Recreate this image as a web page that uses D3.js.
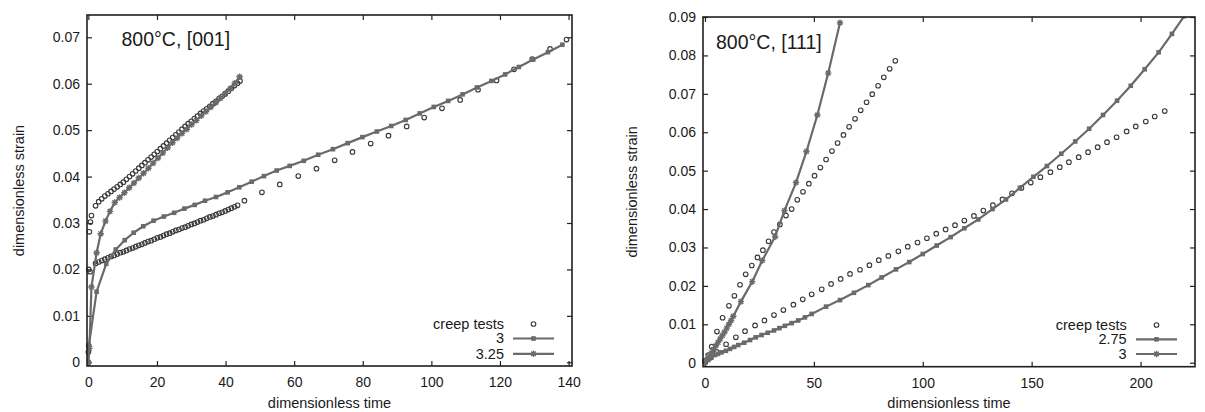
<!DOCTYPE html>
<html><head><meta charset="utf-8">
<script src="https://cdn.jsdelivr.net/npm/d3@7"></script>
<style>
body{margin:0;background:#fff}
text{font-family:"Liberation Sans",Arial,Helvetica,sans-serif;fill:#1a1a1a}
</style>
</head><body>
<svg id="c" width="1205" height="412"></svg>
<script>
// ---------- Left panel: 800°C, [001] ----------
const leftTitle = "800°C, [001]";
const leftXTicks = [0, 20, 40, 60, 80, 100, 120, 140];
const leftYTicks = [0, 0.01, 0.02, 0.03, 0.04, 0.05, 0.06, 0.07];
const leftLegend = ["creep tests", "3", "3.25"];
const leftTestUpper = [[0.3,0.0281],[0.6,0.0302],[0.9,0.0316],[2.1,0.0337],[3.0,0.0346],[3.9,0.0352],[4.8,0.0358],[5.7,0.0363],[6.6,0.0368],[7.5,0.0373],[8.4,0.0378],[9.3,0.0383],[10.2,0.0388],[11.1,0.0394],[12.0,0.0400],[12.9,0.0406],[13.8,0.0412],[14.7,0.0418],[15.6,0.0424],[16.5,0.0430],[17.4,0.0436],[18.3,0.0442],[19.2,0.0448],[20.1,0.0454],[21.0,0.0460],[21.9,0.0466],[22.8,0.0472],[23.7,0.0478],[24.6,0.0484],[25.5,0.0490],[26.4,0.0496],[27.3,0.0502],[28.2,0.0508],[29.1,0.0514],[30.0,0.0519],[30.9,0.0525],[31.8,0.0530],[32.7,0.0536],[33.6,0.0541],[34.5,0.0546],[35.4,0.0551],[36.3,0.0557],[37.2,0.0562],[38.1,0.0568],[39.0,0.0573],[39.9,0.0578],[40.8,0.0584],[41.7,0.0590],[42.6,0.0596],[43.5,0.0601],[44.2,0.0606]];
const leftTestLower = [[0,0.0022],[0.1,0.0036],[0.1,0.0200],[0.5,0.0195],[2.1,0.0213],[3.0,0.0216],[3.9,0.0219],[4.8,0.0222],[5.7,0.0225],[6.6,0.0228],[7.5,0.0230],[8.4,0.0233],[9.3,0.0236],[10.2,0.0238],[11.1,0.0241],[12.0,0.0244],[12.9,0.0246],[13.8,0.0249],[14.7,0.0252],[15.6,0.0254],[16.5,0.0257],[17.4,0.0260],[18.3,0.0262],[19.2,0.0265],[20.1,0.0268],[21.0,0.0270],[21.9,0.0273],[22.8,0.0276],[23.7,0.0278],[24.6,0.0281],[25.5,0.0284],[26.4,0.0286],[27.3,0.0289],[28.2,0.0291],[29.1,0.0294],[30.0,0.0297],[30.9,0.0299],[31.8,0.0302],[32.7,0.0305],[33.6,0.0307],[34.5,0.0310],[35.4,0.0313],[36.3,0.0315],[37.2,0.0318],[38.1,0.0321],[39.0,0.0323],[39.9,0.0326],[40.8,0.0329],[41.7,0.0332],[42.6,0.0335],[43.5,0.0338],[45.5,0.0348],[50.6,0.0366],[55.8,0.0383],[61.2,0.0401],[66.5,0.0417],[71.8,0.0435],[77.0,0.0453],[82.3,0.0471],[87.5,0.0488],[92.8,0.0508],[97.9,0.0527],[103.1,0.0547],[108.4,0.0565],[113.6,0.0587],[119.0,0.0607],[124.1,0.0631],[129.4,0.0653],[134.6,0.0675],[139.4,0.0695]];
const leftFit3 = [[0,0],[0.1,0.0034],[2.4,0.0152],[5.2,0.0212],[8.0,0.0243],[10.6,0.0263],[13.2,0.0279],[16.0,0.0293],[19.0,0.0305],[22.0,0.0314],[25.0,0.0322],[28.0,0.0331],[31.0,0.0339],[34.0,0.0348],[37.2,0.0356],[40.6,0.0366],[44.0,0.0377],[47.6,0.0389],[51.2,0.0401],[54.9,0.0413],[58.7,0.0423],[62.8,0.0434],[67.0,0.0447],[71.3,0.0459],[75.6,0.0472],[79.9,0.0485],[84.1,0.0497],[88.3,0.0509],[92.5,0.0522],[96.6,0.0536],[100.7,0.0550],[104.9,0.0563],[109.1,0.0577],[113.3,0.0592],[117.5,0.0606],[121.5,0.0620],[125.5,0.0636],[129.7,0.0652],[134.0,0.0668],[138.2,0.0684]];
const leftFit325 = [[0,0],[0.3,0.0030],[0.9,0.0162],[2.4,0.0236],[3.6,0.0277],[5.0,0.0304],[6.3,0.0325],[7.7,0.0344],[9.1,0.0355],[10.5,0.0365],[11.9,0.0376],[13.3,0.0386],[14.7,0.0397],[16.1,0.0407],[17.5,0.0418],[18.9,0.0429],[20.3,0.0440],[21.7,0.0451],[23.1,0.0462],[24.5,0.0473],[25.9,0.0483],[27.3,0.0493],[28.7,0.0502],[30.1,0.0512],[31.5,0.0521],[32.9,0.0531],[34.3,0.0540],[35.7,0.0550],[37.1,0.0559],[38.5,0.0569],[39.9,0.0579],[41.3,0.0589],[42.7,0.0601],[44.1,0.0615]];

// ---------- Right panel: 800°C, [111] ----------
const rightTitle = "800°C, [111]";
const rightXTicks = [0, 50, 100, 150, 200];
const rightYTicks = [0, 0.01, 0.02, 0.03, 0.04, 0.05, 0.06, 0.07, 0.08, 0.09];
const rightLegend = ["creep tests", "2.75", "3"];
const rightTestSteep = [[0,0.0004],[1.5,0.0020],[3.1,0.0042],[5.5,0.0081],[8.1,0.0117],[11.0,0.0148],[13.5,0.0174],[16.1,0.0203],[18.7,0.0230],[21.5,0.0253],[24.1,0.0274],[26.6,0.0293],[29.2,0.0316],[31.7,0.0340],[34.4,0.0360],[37.2,0.0383],[39.8,0.0400],[42.4,0.0424],[45.0,0.0445],[47.7,0.0466],[50.3,0.0487],[53.0,0.0508],[55.6,0.0529],[58.3,0.0551],[60.9,0.0572],[63.6,0.0593],[66.2,0.0614],[68.9,0.0635],[71.5,0.0657],[74.2,0.0678],[76.8,0.0699],[79.5,0.0721],[82.1,0.0743],[84.8,0.0765],[87.4,0.0786]];
const rightTestShallow = [[0,0.0003],[2.5,0.0013],[5.4,0.0028],[9.7,0.0048],[14.2,0.0066],[18.4,0.0082],[23.0,0.0097],[27.3,0.0110],[31.7,0.0124],[36.0,0.0137],[40.6,0.0151],[44.9,0.0165],[49.0,0.0178],[53.6,0.0191],[57.9,0.0205],[62.3,0.0218],[66.6,0.0231],[71.2,0.0242],[75.5,0.0254],[79.8,0.0267],[84.2,0.0278],[88.8,0.0290],[93.1,0.0302],[97.6,0.0313],[101.9,0.0324],[106.2,0.0336],[110.5,0.0347],[114.8,0.0358],[119.1,0.0370],[123.5,0.0382],[127.8,0.0396],[132.2,0.0410],[136.6,0.0425],[141.0,0.0441],[145.3,0.0455],[149.6,0.0469],[154.0,0.0483],[158.6,0.0496],[162.9,0.0509],[167.1,0.0522],[171.6,0.0535],[175.9,0.0548],[180.3,0.0561],[184.6,0.0574],[189.0,0.0587],[193.6,0.0602],[197.8,0.0615],[202.4,0.0628],[206.5,0.0641],[211.1,0.0655]];
const rightFit275 = [[0,0],[1.5,0.0007],[3.0,0.0014],[4.6,0.0020],[6.0,0.0023],[7.6,0.0027],[9.6,0.0031],[11.5,0.0036],[13.4,0.0041],[15.3,0.0046],[18.0,0.0052],[20.7,0.0059],[23.3,0.0066],[26.0,0.0072],[28.8,0.0078],[31.7,0.0084],[34.2,0.0090],[36.7,0.0096],[39.8,0.0103],[42.8,0.0110],[45.9,0.0118],[49.0,0.0127],[55.6,0.0146],[62.0,0.0163],[68.4,0.0182],[75.0,0.0202],[81.1,0.0222],[87.7,0.0243],[93.8,0.0262],[100.0,0.0283],[106.4,0.0305],[112.8,0.0327],[119.1,0.0350],[125.5,0.0373],[132.0,0.0400],[138.2,0.0425],[144.6,0.0455],[150.8,0.0484],[157.0,0.0512],[163.6,0.0544],[170.0,0.0576],[176.4,0.0609],[182.8,0.0645],[189.2,0.0682],[195.5,0.0721],[201.9,0.0764],[208.3,0.0808],[214.4,0.0856],[220.0,0.0902]];
const rightFit3 = [[0,0],[1,0.0008],[2,0.0017],[3,0.0026],[4,0.0035],[5,0.0044],[6,0.0053],[7,0.0062],[8,0.0071],[9,0.0080],[10,0.0090],[11,0.0100],[12,0.0110],[13,0.0121],[16.5,0.0159],[21.7,0.0211],[26.3,0.0266],[32.2,0.0328],[36.5,0.0396],[41.8,0.0469],[46.6,0.0550],[51.6,0.0645],[56.6,0.0754],[62.0,0.0885]];

const xLabel = "dimensionless time";
const yLabel = "dimensionless strain";

const svg = d3.select('#c');
svg.append('rect').attr('width',1205).attr('height',412).attr('fill','#fff');

const LINE = '#6a6a6a', CIRC = '#383838';
const starPath = "M-3.2,0H3.2M0,-3.2V3.2M-2.3,-2.3L2.3,2.3M-2.3,2.3L2.3,-2.3";

function drawCircle(g, cx, cy){
  g.append('circle').attr('cx',cx).attr('cy',cy).attr('r',2.3)
   .attr('fill','none').attr('stroke',CIRC).attr('stroke-width',1.1);
}
function drawSquare(g, cx, cy){
  g.append('rect').attr('x',cx-2.3).attr('y',cy-2.3).attr('width',4.6).attr('height',4.6).attr('fill',LINE);
}
function drawStar(g, cx, cy){
  g.append('path').attr('d',starPath).attr('transform',`translate(${cx},${cy})`)
   .attr('stroke',LINE).attr('stroke-width',1.4).attr('fill','none');
}

function panel(cfg, id){
  const x = d3.scaleLinear().domain(cfg.xDomain).range([cfg.left, cfg.right]);
  const y = d3.scaleLinear().domain(cfg.yDomain).range([cfg.bottom, cfg.top]);
  const g = svg.append('g');
  g.append('clipPath').attr('id','clip'+id).append('rect')
    .attr('x',cfg.left).attr('y',cfg.top).attr('width',cfg.right-cfg.left).attr('height',cfg.bottom-cfg.top);

  const tk = 5;
  const yfmt = d => d === 0 ? "0" : d3.format(".2f")(d);
  const axB = g.append('g').attr('transform',`translate(0,${cfg.bottom})`)
    .call(d3.axisBottom(x).tickValues(cfg.xTicks).tickSizeInner(-tk).tickSizeOuter(0).tickPadding(11).tickFormat(d3.format('d')));
  const axT = g.append('g').attr('transform',`translate(0,${cfg.top})`)
    .call(d3.axisTop(x).tickValues(cfg.xTicks).tickSizeInner(-tk).tickSizeOuter(0).tickFormat(''));
  const axL = g.append('g').attr('transform',`translate(${cfg.left},0)`)
    .call(d3.axisLeft(y).tickValues(cfg.yTicks).tickSizeInner(-tk).tickSizeOuter(0).tickPadding(7).tickFormat(yfmt));
  const axR = g.append('g').attr('transform',`translate(${cfg.right},0)`)
    .call(d3.axisRight(y).tickValues(cfg.yTicks).tickSizeInner(-tk).tickSizeOuter(0).tickFormat(''));
  [axB,axT,axL,axR].forEach(a=>{
    a.select('.domain').remove();
    a.selectAll('line').attr('stroke','#222').attr('stroke-width',1.2);
    a.selectAll('text').attr('font-size',14).attr('fill','#1a1a1a').attr('font-family','"Liberation Sans",Arial,sans-serif');
  });

  // data: circles first
  const gp = g.append('g');
  cfg.tests.forEach(s => s.forEach(d => drawCircle(gp, x(d[0]), y(d[1]))));

  const line = d3.line().x(d=>x(d[0])).y(d=>y(d[1]));
  const gl = g.append('g').attr('clip-path',`url(#clip${id})`);
  cfg.fits.forEach((f,i) => {
    gl.append('path').datum(f.data).attr('d',line).attr('fill','none')
      .attr('stroke',LINE).attr('stroke-width',2.2).attr('stroke-linejoin','round');
    f.data.forEach(d => {
      if (f.marker === 'square') drawSquare(gl, x(d[0]), y(d[1]));
      else drawStar(gl, x(d[0]), y(d[1]));
    });
  });

  // frame
  g.append('rect').attr('x',cfg.left).attr('y',cfg.top).attr('width',cfg.right-cfg.left).attr('height',cfg.bottom-cfg.top)
    .attr('fill','none').attr('stroke','#1e1e1e').attr('stroke-width',1.6);

  // title
  g.append('text').attr('x',cfg.titleX).attr('y',cfg.titleY).attr('font-size',19.5).text(cfg.title);

  // axis labels
  g.append('text').attr('x',(cfg.left+cfg.right)/2).attr('y',408).attr('text-anchor','middle').attr('font-size',14.5).text(xLabel);
  g.append('text').attr('transform',`translate(${cfg.ylabX},${(cfg.top+cfg.bottom)/2}) rotate(-90)`)
    .attr('text-anchor','middle').attr('font-size',14.5).text(yLabel);

  // legend
  const lg = g.append('g');
  const rows = cfg.legendRows;
  lg.append('text').attr('x',cfg.legTextX).attr('y',rows[0]+4.5).attr('text-anchor','end').attr('font-size',14.5).text(cfg.legend[0]);
  drawCircle(lg, (cfg.legX0+cfg.legX1)/2, rows[0]);
  cfg.fits.forEach((f,i) => {
    const ry = rows[i+1];
    lg.append('text').attr('x',cfg.legTextX).attr('y',ry+4.8).attr('text-anchor','end').attr('font-size',14.5).text(cfg.legend[i+1]);
    lg.append('line').attr('x1',cfg.legX0).attr('x2',cfg.legX1).attr('y1',ry).attr('y2',ry)
      .attr('stroke',LINE).attr('stroke-width',2.2);
    if (f.marker === 'square') drawSquare(lg, (cfg.legX0+cfg.legX1)/2, ry);
    else drawStar(lg, (cfg.legX0+cfg.legX1)/2, ry);
  });
}

panel({
  left: 87, right: 572, top: 15, bottom: 366,
  xDomain: [-0.4, 141], yDomain: [-0.0008, 0.0748],
  xTicks: leftXTicks, yTicks: leftYTicks,
  tests: [leftTestUpper, leftTestLower],
  fits: [{data: leftFit3, marker:'square'}, {data: leftFit325, marker:'star'}],
  title: leftTitle, titleX: 121.5, titleY: 45.5,
  ylabX: 23.5,
  legend: leftLegend, legTextX: 504, legX0: 513, legX1: 554, legendRows: [324, 338.5, 353.8]
}, 'L');

panel({
  left: 703, right: 1195, top: 17, bottom: 366.7,
  xDomain: [-0.9, 225], yDomain: [-0.00104, 0.09],
  xTicks: rightXTicks, yTicks: rightYTicks,
  tests: [rightTestSteep, rightTestShallow],
  fits: [{data: rightFit275, marker:'square'}, {data: rightFit3, marker:'star'}],
  title: rightTitle, titleX: 716, titleY: 49,
  ylabX: 637,
  legend: rightLegend, legTextX: 1126.7, legX0: 1136, legX1: 1177, legendRows: [325, 339.3, 354]
}, 'R');
</script>
</body></html>
